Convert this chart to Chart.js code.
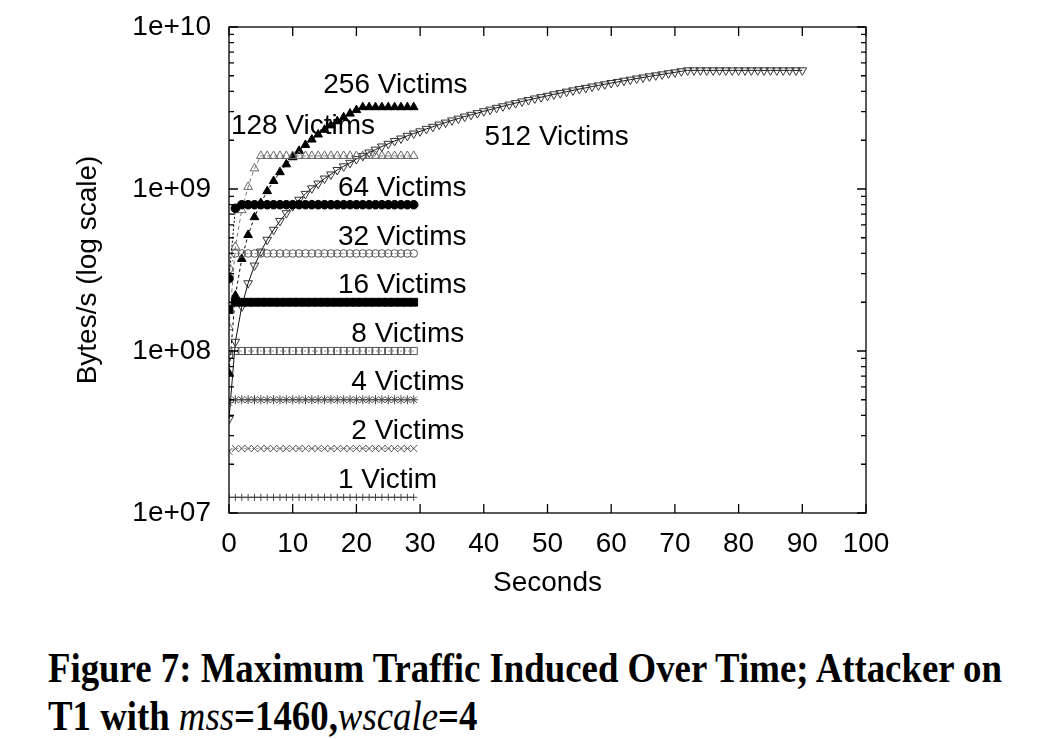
<!DOCTYPE html>
<html>
<head>
<meta charset="utf-8">
<script src="https://cdn.jsdelivr.net/npm/chart.js@4/dist/chart.umd.min.js"></script>
<style>
  body { margin: 0; background: #fff; }
  #wrap { position: relative; width: 1054px; height: 620px; }
  .cap { position: absolute; left: 48px; font-family: "Liberation Serif", serif; font-weight: bold;
         font-size: 42px; line-height: 42px; white-space: nowrap; transform-origin: 0 0; color: #000; }
  .cap i { font-weight: normal; }
</style>
</head>
<body>
<div id="wrap"><canvas id="graph"></canvas></div>
<div class="cap" id="cap1" style="top:647px">Figure 7: Maximum Traffic Induced Over Time; Attacker on</div>
<div class="cap" id="cap2" style="top:695px">T1 with <i>mss</i>=1460,<i>wscale</i>=4</div>
<script>
// sample times (seconds)
var secShort = [0,1,2,3,4,5,6,7,8,9,10,11,12,13,14,15,16,17,18,19,20,21,22,23,24,25,26,27,28,29];
var secLong = [0,1,2,3,4,5,6,7,8,9,10,11,12,13,14,15,16,17,18,19,20,21,22,23,24,25,26,27,28,29,
  30,31,32,33,34,35,36,37,38,39,40,41,42,43,44,45,46,47,48,49,50,51,52,53,54,55,56,57,58,59,
  60,61,62,63,64,65,66,67,68,69,70,71,72,73,74,75,76,77,78,79,80,81,82,83,84,85,86,87,88,89,90];

// bytes/s
var v1 = [1.25e7,1.25e7,1.25e7,1.25e7,1.25e7,1.25e7,1.25e7,1.25e7,1.25e7,1.25e7,1.25e7,1.25e7,1.25e7,1.25e7,1.25e7,
  1.25e7,1.25e7,1.25e7,1.25e7,1.25e7,1.25e7,1.25e7,1.25e7,1.25e7,1.25e7,1.25e7,1.25e7,1.25e7,1.25e7,1.25e7];
var v2 = [2.4e7,2.5e7,2.5e7,2.5e7,2.5e7,2.5e7,2.5e7,2.5e7,2.5e7,2.5e7,2.5e7,2.5e7,2.5e7,2.5e7,2.5e7,
  2.5e7,2.5e7,2.5e7,2.5e7,2.5e7,2.5e7,2.5e7,2.5e7,2.5e7,2.5e7,2.5e7,2.5e7,2.5e7,2.5e7,2.5e7];
var v4 = [4.8e7,5e7,5e7,5e7,5e7,5e7,5e7,5e7,5e7,5e7,5e7,5e7,5e7,5e7,5e7,
  5e7,5e7,5e7,5e7,5e7,5e7,5e7,5e7,5e7,5e7,5e7,5e7,5e7,5e7,5e7];
var v8 = [9.5e7,1e8,1e8,1e8,1e8,1e8,1e8,1e8,1e8,1e8,1e8,1e8,1e8,1e8,1e8,
  1e8,1e8,1e8,1e8,1e8,1e8,1e8,1e8,1e8,1e8,1e8,1e8,1e8,1e8,1e8];
var v16 = [1.8e8,2e8,2e8,2e8,2e8,2e8,2e8,2e8,2e8,2e8,2e8,2e8,2e8,2e8,2e8,
  2e8,2e8,2e8,2e8,2e8,2e8,2e8,2e8,2e8,2e8,2e8,2e8,2e8,2e8,2e8];
var v32 = [3.2e8,4e8,4e8,4e8,4e8,4e8,4e8,4e8,4e8,4e8,4e8,4e8,4e8,4e8,4e8,
  4e8,4e8,4e8,4e8,4e8,4e8,4e8,4e8,4e8,4e8,4e8,4e8,4e8,4e8,4e8];
var v64 = [2.8e8,7.6e8,8e8,8e8,8e8,8e8,8e8,8e8,8e8,8e8,8e8,8e8,8e8,8e8,8e8,
  8e8,8e8,8e8,8e8,8e8,8e8,8e8,8e8,8e8,8e8,8e8,8e8,8e8,8e8,8e8];
var v128 = [1.4e8,4.4e8,7.4e8,1.03e9,1.34e9,1.6e9,1.6e9,1.6e9,1.6e9,1.6e9,1.6e9,1.6e9,1.6e9,1.6e9,1.6e9,
  1.6e9,1.6e9,1.6e9,1.6e9,1.6e9,1.6e9,1.6e9,1.6e9,1.6e9,1.6e9,1.6e9,1.6e9,1.6e9,1.6e9,1.6e9];
var v256 = [7.3e7,2.2e8,3.7e8,5.2e8,6.7e8,8.2e8,9.7e8,1.12e9,1.27e9,1.42e9,1.57e9,1.72e9,1.87e9,2.02e9,2.17e9,
  2.32e9,2.47e9,2.62e9,2.77e9,2.92e9,3.07e9,3.2e9,3.2e9,3.2e9,3.2e9,3.2e9,3.2e9,3.2e9,3.2e9,3.2e9];
var v512 = [3.8e7,1.14e8,1.88e8,2.62e8,3.37e8,4.11e8,4.86e8,5.6e8,6.35e8,7.09e8,
  7.84e8,8.58e8,9.33e8,1.01e9,1.08e9,1.16e9,1.23e9,1.31e9,1.38e9,1.45e9,
  1.53e9,1.6e9,1.68e9,1.75e9,1.83e9,1.9e9,1.98e9,2.05e9,2.13e9,2.2e9,
  2.27e9,2.35e9,2.42e9,2.5e9,2.57e9,2.65e9,2.72e9,2.8e9,2.87e9,2.94e9,
  3.02e9,3.09e9,3.17e9,3.24e9,3.32e9,3.39e9,3.47e9,3.54e9,3.62e9,3.69e9,
  3.76e9,3.84e9,3.91e9,3.99e9,4.06e9,4.14e9,4.21e9,4.29e9,4.36e9,4.43e9,
  4.51e9,4.58e9,4.66e9,4.73e9,4.81e9,4.88e9,4.96e9,5.03e9,5.1e9,5.18e9,
  5.25e9,5.33e9,5.4e9,5.4e9,5.4e9,5.4e9,5.4e9,5.4e9,5.4e9,5.4e9,
  5.4e9,5.4e9,5.4e9,5.4e9,5.4e9,5.4e9,5.4e9,5.4e9,5.4e9,5.4e9,5.4e9];

// series names as printed on the plot
var names = ['1 Victim','2 Victims','4 Victims','8 Victims','16 Victims','32 Victims','64 Victims','128 Victims','256 Victims','512 Victims'];

// axis ticks
var xTicks = [0,10,20,30,40,50,60,70,80,90,100];
var yMajor = [1e7,1e8,1e9,1e10];
var yMajorLabels = ['1e+07','1e+08','1e+09','1e+10'];
var yMinor = [2e7,3e7,4e7,5e7,6e7,7e7,8e7,9e7,2e8,3e8,4e8,5e8,6e8,7e8,8e8,9e8,2e9,3e9,4e9,5e9,6e9,7e9,8e9,9e9];

// where each series name sits (data coords, left edge / middle)
var labelX = [17.1,19.2,19.2,19.2,17.1,17.1,17.1,0.3,14.8,40.1];
var labelY = [1.6e7,3.2e7,6.4e7,1.27e8,2.55e8,5.06e8,1.01e9,2.45e9,4.39e9,2.09e9];

function pts(xs, ys) {
    return xs.map(function (x, i) { return {x: x, y: ys[i]}; });
}

var series = [
    {d: pts(secShort, v1),   style: 'cross',    r: 3.5, fill: false, col: '#444', line: '#444', dash: []},
    {d: pts(secShort, v2),   style: 'crossRot', r: 5,   fill: false, col: '#555', line: '#888', dash: [2, 2]},
    {d: pts(secShort, v4),   style: 'star',     r: 4.5, fill: false, col: '#444', line: '#888', dash: [2, 2]},
    {d: pts(secShort, v8),   style: 'rect',     r: 5,   fill: false, col: '#555', line: '#888', dash: [2, 2]},
    {d: pts(secShort, v16),  style: 'rect',     r: 5.5, fill: true,  col: '#000', line: '#000', dash: [2, 2]},
    {d: pts(secShort, v32),  style: 'circle',   r: 3.8, fill: false, col: '#555', line: '#888', dash: [2, 2]},
    {d: pts(secShort, v64),  style: 'circle',   r: 4.3, fill: true,  col: '#000', line: '#000', dash: [2, 2]},
    {d: pts(secShort, v128), style: 'triangle', r: 5,   fill: false, col: '#666', line: '#777', dash: [4, 3]},
    {d: pts(secShort, v256), style: 'triangle', r: 5,   fill: true,  col: '#000', line: '#000', dash: [3, 3]},
    {d: pts(secLong, v512),  style: 'triangle', r: 5,   fill: false, col: '#333', line: '#111', dash: [], rot: 180}
];

var datasets = series.map(function (s, i) {
    return {
        label: names[i],
        data: s.d,
        borderColor: s.line,
        borderWidth: 1,
        borderDash: s.dash,
        pointStyle: s.style,
        pointRadius: s.r,
        pointRotation: s.rot || 0,
        pointBackgroundColor: s.fill ? s.col : 'rgba(0,0,0,0)',
        pointBorderColor: s.col,
        pointBorderWidth: 1,
        tension: 0,
        fill: false
    };
});

var font = "'Liberation Sans', Arial, sans-serif";

// frame, inward ticks and in-plot labels
var framePlugin = {
    id: 'frame',
    beforeDatasetsDraw: function (chart) {
        var ctx = chart.ctx, xs = chart.scales.x, ys = chart.scales.y;
        ctx.save();
        ctx.fillStyle = '#000';
        ctx.font = '28px ' + font;
        ctx.textBaseline = 'middle';
        ctx.textAlign = 'left';
        names.forEach(function (n, i) {
            ctx.fillText(n, xs.getPixelForValue(labelX[i]), ys.getPixelForValue(labelY[i]));
        });
        ctx.restore();
    },
    afterDraw: function (chart) {
        var ctx = chart.ctx, a = chart.chartArea, xs = chart.scales.x, ys = chart.scales.y;
        ctx.save();
        ctx.strokeStyle = '#000';
        ctx.lineWidth = 1.3;
        ctx.beginPath();
        xTicks.forEach(function (t) {
            var px = xs.getPixelForValue(t);
            ctx.moveTo(px, a.bottom); ctx.lineTo(px, a.bottom - 9);
            ctx.moveTo(px, a.top); ctx.lineTo(px, a.top + 9);
        });
        yMajor.forEach(function (t) {
            var py = ys.getPixelForValue(t);
            ctx.moveTo(a.left, py); ctx.lineTo(a.left + 9, py);
            ctx.moveTo(a.right, py); ctx.lineTo(a.right - 9, py);
        });
        yMinor.forEach(function (t) {
            var py = ys.getPixelForValue(t);
            ctx.moveTo(a.left, py); ctx.lineTo(a.left + 5, py);
            ctx.moveTo(a.right, py); ctx.lineTo(a.right - 5, py);
        });
        ctx.stroke();
        ctx.strokeRect(a.left, a.top, a.right - a.left, a.bottom - a.top);
        ctx.restore();
    }
};

var canvas = document.getElementById('graph');
var chart = new Chart(canvas, {
    type: 'line',
    data: {datasets: datasets},
    plugins: [framePlugin],
    options: {
        responsive: true,
        maintainAspectRatio: false,
        animation: false,
        layout: {padding: {top: 27, right: 188, left: 0, bottom: 0}},
        plugins: {legend: {display: false}, tooltip: {enabled: false}},
        scales: {
            x: {
                type: 'linear',
                min: 0,
                max: 100,
                afterFit: function (s) { s.height = 107; s.paddingLeft = 0; s.paddingRight = 0; },
                afterBuildTicks: function (s) { s.ticks = xTicks.map(function (v) { return {value: v}; }); },
                grid: {display: false, drawTicks: false},
                border: {display: false},
                ticks: {color: '#000', font: {family: font, size: 28}, padding: 14, maxRotation: 0},
                title: {display: true, text: 'Seconds', color: '#000', font: {family: font, size: 28}, padding: {bottom: 20}}
            },
            y: {
                type: 'logarithmic',
                min: 1e7,
                max: 1e10,
                afterFit: function (s) { s.width = 229; s.paddingTop = 0; s.paddingBottom = 0; },
                afterBuildTicks: function (s) { s.ticks = yMajor.map(function (v) { return {value: v}; }); },
                grid: {display: false, drawTicks: false},
                border: {display: false},
                ticks: {
                    color: '#000',
                    font: {family: font, size: 28},
                    padding: 18,
                    callback: function (v) {
                        var i = yMajor.indexOf(v);
                        return i >= 0 ? yMajorLabels[i] : '';
                    }
                },
                title: {display: true, text: 'Bytes/s (log scale)', color: '#000', font: {family: font, size: 28}, padding: {top: 71}}
            }
        }
    }
});

// stretch caption lines to the width of the printed caption
var c1 = document.getElementById('cap1'), c2 = document.getElementById('cap2');
var k = 954 / c1.getBoundingClientRect().width;
c1.style.transform = 'scaleX(' + k + ')';
c2.style.transform = 'scaleX(' + k + ')';
</script>
</body>
</html>
